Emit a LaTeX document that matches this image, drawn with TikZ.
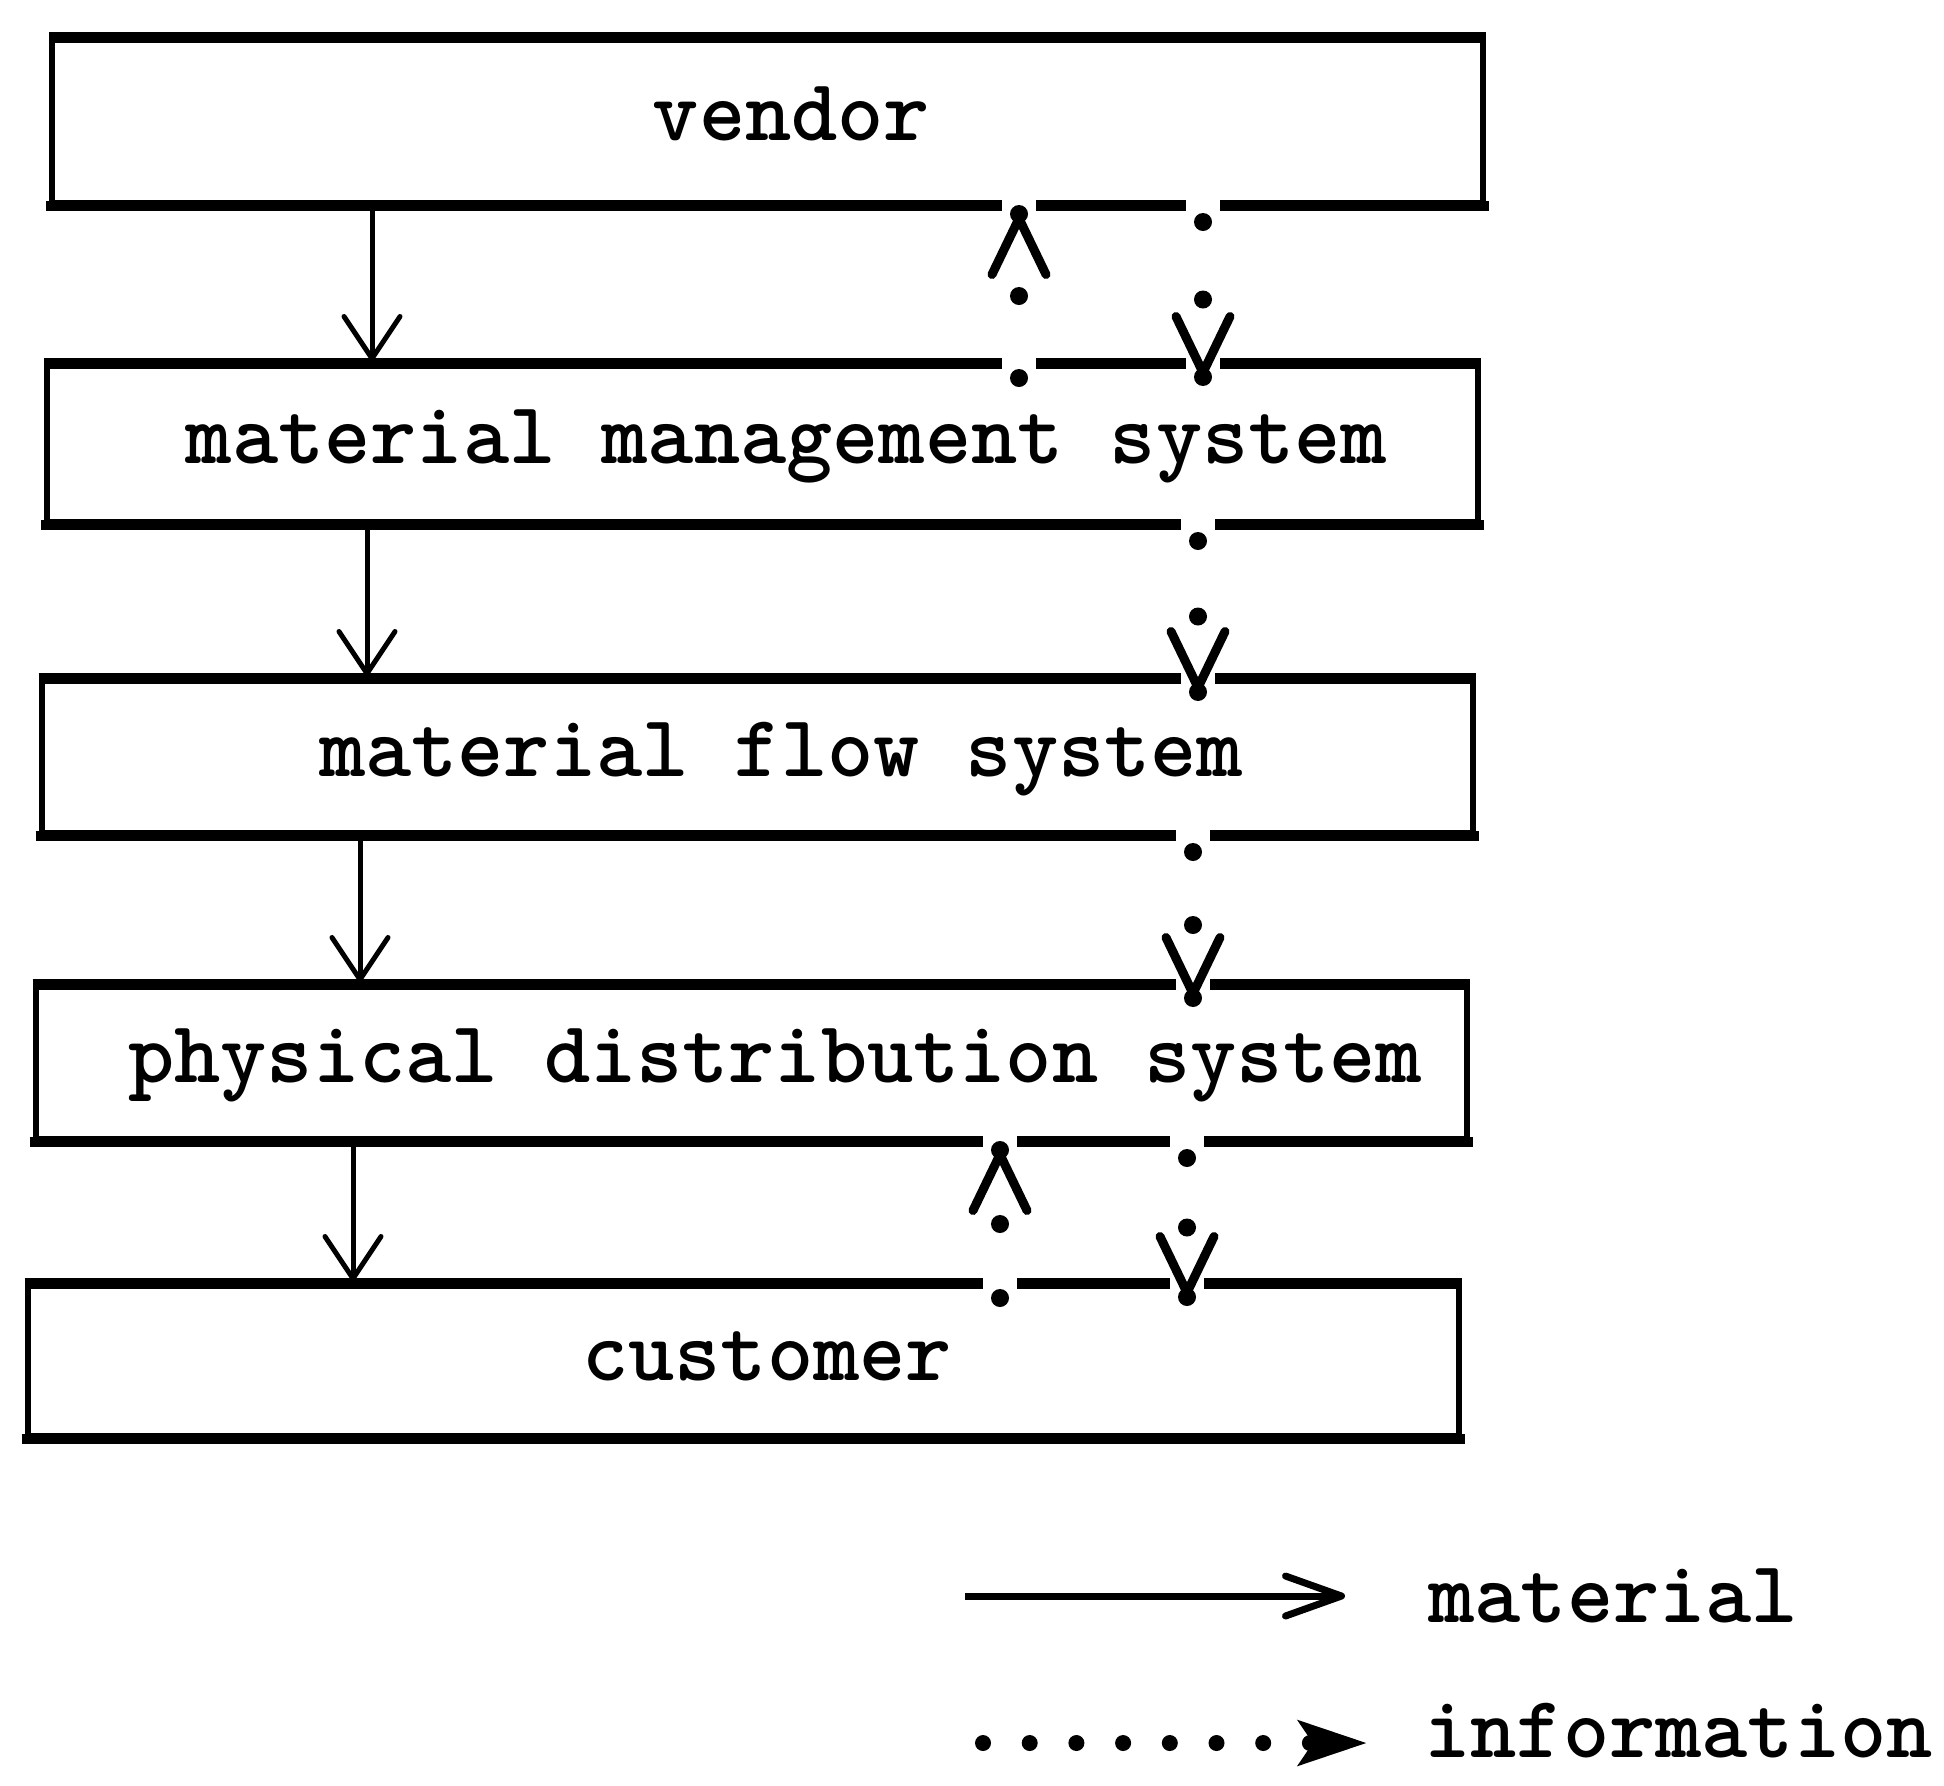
\documentclass[tikz,border=0pt]{standalone}
\usepackage{fontspec}
\usetikzlibrary{arrows.meta,calc,decorations.markings}

\newcommand{\boxfont}{\fontsize{44pt}{50pt}\selectfont\ttfamily\bfseries}

\tikzset{
  sysbox/.style={draw, line width=3pt, minimum width=715.5pt, inner sep=0pt},
  boxlabel/.style={font=\boxfont, inner sep=0pt, xshift=12pt, text height=19pt, text depth=0pt},
  rim/.style={line width=5pt, shorten <=-1.5pt, shorten >=-1.5pt},
  gapbox/.style={fill=white, minimum width=17pt, minimum height=8pt, inner sep=0pt},
  matflow/.style={line width=2.5pt, -{Straight Barb[round, length=21pt, width=28pt]}},
  infoflow/.style={line width=4.5pt, dash pattern=on 0pt off 2000pt,
    -{Straight Barb[round, length=28pt, width=27pt]},
    postaction={decorate, decoration={markings,
      mark=at position 0 with {\fill (0,0) circle (4.5pt);},
      mark=at position 0.5 with {\fill (0,0) circle (4.5pt);},
      mark=at position 0.9999 with {\fill (0,0) circle (4.5pt);}}}},
  keytext/.style={font=\boxfont, anchor=west, inner sep=0pt, text height=19pt, text depth=0pt},
  matkey/.style={line width=3.5pt, -{Straight Barb[round, length=28pt, width=20pt]}},
  infokey/.style={line width=8pt, line cap=round, dash pattern=on 0pt off 23.35pt,
    -{Stealth[length=34pt, width=22pt, inset=7pt]}},
}

\begin{document}
\begin{tikzpicture}[x=0.5pt, y=-0.5pt]
    \useasboundingbox (0,0) rectangle (1944,1785);

    % Systems
    \node[sysbox, minimum height=81.5pt, label={[boxlabel, name=vendor-t]center:vendor}] (vendor) at (767.5,121.5) {};
    \node[sysbox, minimum height=78pt, label={[boxlabel, name=mms-t]center:material management system}] (mms) at (762.5,444) {};
    \node[sysbox, minimum height=76pt, label={[boxlabel, name=mfs-t]center:material flow system}] (mfs) at (757,757) {};
    \node[sysbox, minimum height=76pt, label={[boxlabel, name=pds-t]center:physical distribution system}] (pds) at (751,1063) {};
    \node[sysbox, minimum height=75pt, label={[boxlabel, name=customer-t]center:customer}] (customer) at (743,1361) {};

    % Heavy top and bottom edges
    \draw[rim] (vendor.north west) -- (vendor.north east) (vendor.south west) -- (vendor.south east);
    \draw[rim] (mms.north west) -- (mms.north east) (mms.south west) -- (mms.south east);
    \draw[rim] (mfs.north west) -- (mfs.north east) (mfs.south west) -- (mfs.south east);
    \draw[rim] (pds.north west) -- (pds.north east) (pds.south west) -- (pds.south east);
    \draw[rim] (customer.north west) -- (customer.north east) (customer.south west) -- (customer.south east);

    % Columns of the flows
    \coordinate (mat1) at (372,0);
    \coordinate (mat2) at (367,0);
    \coordinate (mat3) at (360,0);
    \coordinate (mat4) at (353,0);
    \coordinate (inf1) at (1203,0);
    \coordinate (inf2) at (1198,0);
    \coordinate (inf3) at (1193,0);
    \coordinate (inf4) at (1187,0);
    \coordinate (back1) at (1019,0);
    \coordinate (back2) at (1000,0);

    % Breaks in the edges where information passes
    \node[gapbox] (g1) at (vendor.south -| inf1) {};
    \node[gapbox] (g2) at (mms.north -| inf1) {};
    \node[gapbox] (g3) at (vendor.south -| back1) {};
    \node[gapbox] (g4) at (mms.north -| back1) {};
    \node[gapbox] (g5) at (mms.south -| inf2) {};
    \node[gapbox] (g6) at (mfs.north -| inf2) {};
    \node[gapbox] (g7) at (mfs.south -| inf3) {};
    \node[gapbox] (g8) at (pds.north -| inf3) {};
    \node[gapbox] (g9) at (pds.south -| inf4) {};
    \node[gapbox] (g10) at (customer.north -| inf4) {};
    \node[gapbox] (g11) at (pds.south -| back2) {};
    \node[gapbox] (g12) at (customer.north -| back2) {};

    % Material flow
    \draw[matflow] (vendor.south -| mat1) -- ($(mms.north -| mat1)+(0,-2)$);
    \draw[matflow] (mms.south -| mat2) -- ($(mfs.north -| mat2)+(0,-2)$);
    \draw[matflow] (mfs.south -| mat3) -- ($(pds.north -| mat3)+(0,-2)$);
    \draw[matflow] (pds.south -| mat4) -- ($(customer.north -| mat4)+(0,-2)$);

    % Information flow
    \draw[infoflow] ($(vendor.south -| inf1)+(0,16)$) -- ($(mms.north -| inf1)+(0,14)$);
    \draw[infoflow] ($(mms.north -| back1)+(0,15)$) -- ($(vendor.south -| back1)+(0,8)$);
    \draw[infoflow] ($(mms.south -| inf2)+(0,16)$) -- ($(mfs.north -| inf2)+(0,14)$);
    \draw[infoflow] ($(mfs.south -| inf3)+(0,16)$) -- ($(pds.north -| inf3)+(0,14)$);
    \draw[infoflow] ($(pds.south -| inf4)+(0,16)$) -- ($(customer.north -| inf4)+(0,14)$);
    \draw[infoflow] ($(customer.north -| back2)+(0,15)$) -- ($(pds.south -| back2)+(0,8)$);

    % Key
    \coordinate (km1) at (965,1596);
    \coordinate (km2) at (1345,1596);
    \draw[matkey] (km1) -- (km2);
    \node[keytext] (kmat) at (1428,1603) {material};
    \coordinate (ki1) at (983,1743);
    \coordinate (ki2) at (1367,1743);
    \draw[infokey] (ki1) -- (ki2);
    \node[keytext] (kinf) at (1424,1738) {information};
\end{tikzpicture}
\end{document}
